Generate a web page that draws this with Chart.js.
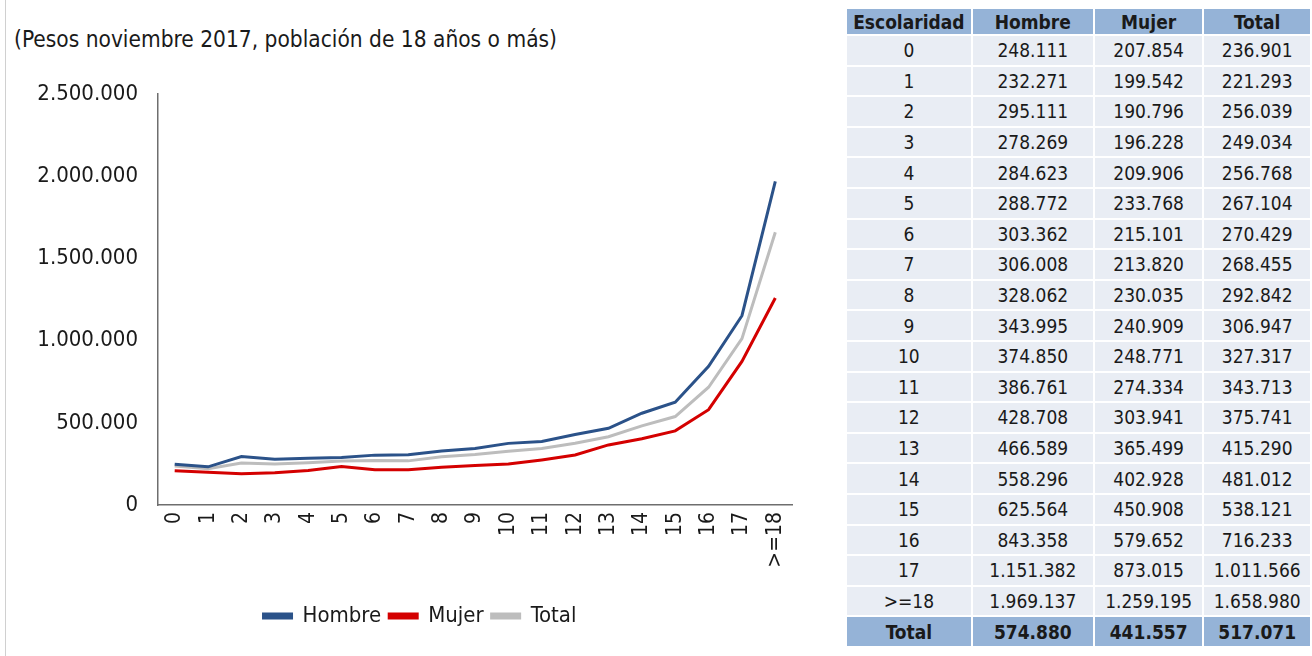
<!DOCTYPE html>
<html>
<head>
<meta charset="utf-8">
<script src="https://cdn.jsdelivr.net/npm/chart.js@4"></script>
<style>
    body { margin: 0; width: 1312px; height: 656px; overflow: hidden; background: #fff; position: relative; }
    #frame { position: absolute; left: 5px; top: 0; width: 1px; height: 656px; background: #d0d0d0; }
    #subtitulo { position: absolute; left: 14px; top: 26px; font-family: "DejaVu Sans Condensed", "DejaVu Sans", sans-serif;
                 font-size: 22.5px; line-height: 27px; color: #1a1a1a; white-space: nowrap; }
    #chartBox { position: absolute; left: 0; top: 0; width: 830px; height: 656px; }
    #tabla { position: absolute; left: 845px; top: 7px; border-collapse: separate; border-spacing: 2px;
             font-family: "DejaVu Sans Condensed", "DejaVu Sans", sans-serif; font-size: 19px; color: #1a1a1a; }
    #tabla td, #tabla th { text-align: center; padding: 0; background: #e9edf4; height: 28.6px; line-height: 22px; }
    #tabla th { background: #95b3d7; font-weight: bold; height: 25px; }
    #tabla tr.tot td { background: #95b3d7; font-weight: bold; height: 29px; }
</style>
</head>
<body>
<div id="frame"></div>
<div id="subtitulo">(Pesos noviembre 2017, población de 18 años o más)</div>
<div id="chartBox"><canvas id="ingresoChart"></canvas></div>
<table id="tabla"></table>
<script>
// Ingreso por escolaridad
const categorias = ['0', '1', '2', '3', '4', '5', '6', '7', '8', '9', '10', '11', '12', '13', '14', '15', '16', '17', '>=18'];
const hombre = [248111, 232271, 295111, 278269, 284623, 288772, 303362, 306008, 328062, 343995, 374850, 386761, 428708, 466589, 558296, 625564, 843358, 1151382, 1969137];
const mujer = [207854, 199542, 190796, 196228, 209906, 233768, 215101, 213820, 230035, 240909, 248771, 274334, 303941, 365499, 402928, 450908, 579652, 873015, 1259195];
const total = [236901, 221293, 256039, 249034, 256768, 267104, 270429, 268455, 292842, 306947, 327317, 343713, 375741, 415290, 481012, 538121, 716233, 1011566, 1658980];
const totales = [574880, 441557, 517071];
const encabezados = ['Escolaridad', 'Hombre', 'Mujer', 'Total'];
const anchos = [124, 121, 108, 106];

const FONT = '"DejaVu Sans Condensed", "DejaVu Sans", sans-serif';

function miles(v) {
    return String(v).replace(/\B(?=(\d{3})+(?!\d))/g, '.');
}

// Build table
const tabla = document.getElementById('tabla');
let html = '<tr>' + encabezados.map((h, i) => `<th style="width:${anchos[i]}px">${h}</th>`).join('') + '</tr>';
categorias.forEach((c, i) => {
    html += `<tr><td>${c}</td><td>${miles(hombre[i])}</td><td>${miles(mujer[i])}</td><td>${miles(total[i])}</td></tr>`;
});
html += '<tr class="tot"><td>Total</td>' + totales.map(v => `<td>${miles(v)}</td>`).join('') + '</tr>';
tabla.innerHTML = html;

// Legend sits a bit right of the canvas centre in the original
const legendShift = {
    id: 'legendShift',
    afterLayout(chart) {
        chart.legend.left += 17;
        chart.legend.right += 17;
    }
};

// Create chart
const ctx = document.getElementById('ingresoChart').getContext('2d');
new Chart(ctx, {
    type: 'line',
    data: {
        labels: categorias,
        datasets: [
            { label: 'Hombre', data: hombre, borderColor: '#2b5289', backgroundColor: '#2b5289' },
            { label: 'Mujer', data: mujer, borderColor: '#d40000', backgroundColor: '#d40000' },
            { label: 'Total', data: total, borderColor: '#bdbdbd', backgroundColor: '#bdbdbd' }
        ].map(d => Object.assign(d, { borderWidth: 3, pointRadius: 0, tension: 0, fill: false }))
    },
    plugins: [legendShift],
    options: {
        responsive: true,
        maintainAspectRatio: false,
        animation: false,
        layout: { padding: { left: 14, right: 38, top: 94, bottom: 19 } },
        plugins: {
            legend: {
                position: 'bottom',
                labels: {
                    color: '#1a1a1a',
                    font: { family: FONT, size: 22 },
                    boxWidth: 28,
                    boxHeight: 4,
                    padding: 8
                }
            },
            tooltip: { enabled: false }
        },
        scales: {
            x: {
                offset: true,
                grid: { display: false, drawTicks: false },
                border: { color: '#6e6e6e', width: 1.5 },
                ticks: { color: '#1a1a1a', font: { family: FONT, size: 21 }, minRotation: 90, maxRotation: 90, padding: 7 },
                afterFit: scale => { scale.height = 92; }
            },
            y: {
                min: 0,
                max: 2500000,
                grid: { display: false, drawTicks: false },
                border: { color: '#6e6e6e', width: 1.5 },
                ticks: { stepSize: 500000, color: '#1a1a1a', font: { family: FONT, size: 22 }, padding: 20, callback: v => miles(v) },
                afterFit: scale => { scale.width = 144; }
            }
        }
    }
});
</script>
</body>
</html>
